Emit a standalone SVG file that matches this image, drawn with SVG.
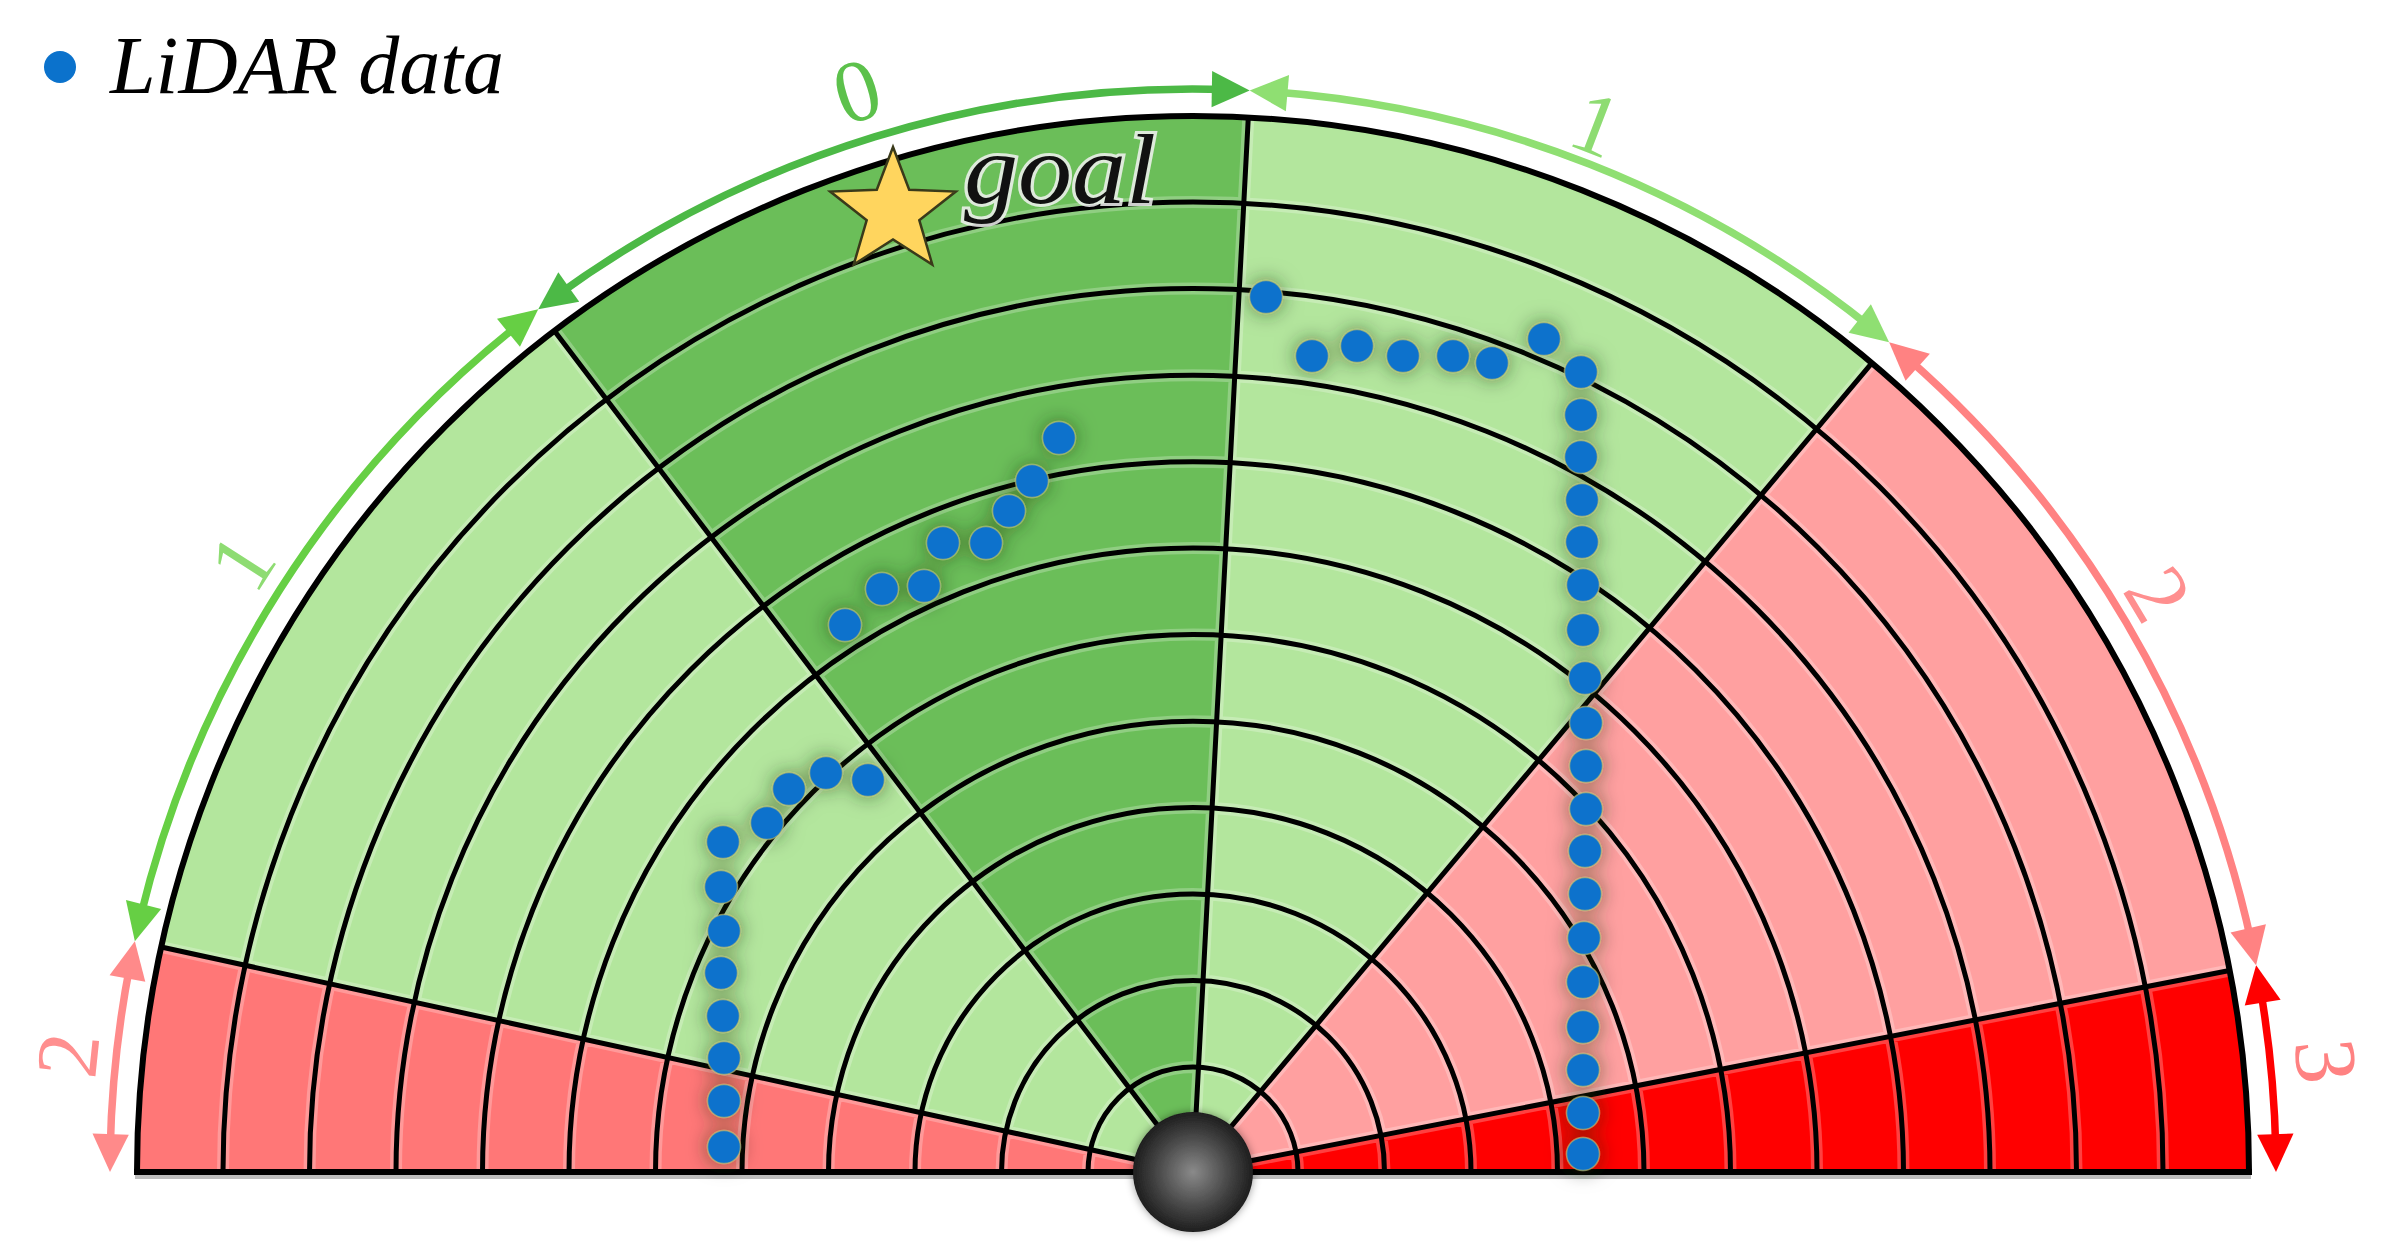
<svg xmlns="http://www.w3.org/2000/svg" xmlns:xlink="http://www.w3.org/1999/xlink" width="2381" height="1258" viewBox="0 0 2381 1258">
<defs>
<style>
.grid{fill:none;stroke:#000;stroke-width:5}
.hl{fill:none;stroke:#fff;stroke-opacity:0.25;stroke-width:12}
.shaft{fill:none;stroke-width:7.5}
.lbl{font-family:"Liberation Serif","DejaVu Serif",serif;font-size:88px;text-anchor:middle;dominant-baseline:central}
.d{fill:#0b72cc;stroke:#c8c46a;stroke-width:1.5;stroke-opacity:0.6}
</style>
<polygon id="hA" points="2276,1172 2293.5,1133.5 2257.2,1134.8"/>
<polygon id="hB" points="2276,1172 2293.5,1210.5 2257.2,1209.2"/>
<filter id="glow" x="-10%" y="-10%" width="120%" height="120%">
<feGaussianBlur in="SourceAlpha" stdDeviation="10" result="b"/>
<feFlood flood-color="#1e3210" flood-opacity="0.55"/>
<feComposite in2="b" operator="in" result="s"/>
<feMerge><feMergeNode in="s"/><feMergeNode in="SourceGraphic"/></feMerge>
</filter>
<filter id="rshadow" x="-40%" y="-40%" width="180%" height="180%">
<feGaussianBlur in="SourceAlpha" stdDeviation="4" result="b"/>
<feFlood flood-color="#000" flood-opacity="0.4"/>
<feComposite in2="b" operator="in" result="s"/>
<feMerge><feMergeNode in="s"/><feMergeNode in="SourceGraphic"/></feMerge>
</filter>
<radialGradient id="rg" cx="0.5" cy="0.5" r="0.5">
<stop offset="0" stop-color="#8a8a8a"/>
<stop offset="0.7" stop-color="#3c3c3c"/>
<stop offset="1" stop-color="#1e1e1e"/>
</radialGradient>
</defs>
<rect width="2381" height="1258" fill="#fff"/>

<g id="sectors">
<path d="M1193,1172 L2249,1172 A1056,1056 0 0 0 2229.6,970.5 Z" fill="#ff0000"/>
<path d="M1193,1172 L2229.6,970.5 A1056,1056 0 0 0 1871.8,363.1 Z" fill="#ffa0a0"/>
<path d="M1193,1172 L1871.8,363.1 A1056,1056 0 0 0 1248.3,117.4 Z" fill="#b3e69d"/>
<path d="M1193,1172 L1248.3,117.4 A1056,1056 0 0 0 554.5,330.9 Z" fill="#6bbe59"/>
<path d="M1193,1172 L554.5,330.9 A1056,1056 0 0 0 161.2,947 Z" fill="#b3e69d"/>
<path d="M1193,1172 L161.2,947 A1056,1056 0 0 0 137,1172 Z" fill="#ff7777"/>
</g>

<g id="grid">
<path class="hl" d="M1298,1172 A105,105 0 0 0 1088,1172 M1384.5,1172 A191.5,191.5 0 0 0 1001.5,1172 M1471,1172 A278,278 0 0 0 915,1172 M1557.5,1172 A364.5,364.5 0 0 0 828.5,1172 M1644,1172 A451,451 0 0 0 742,1172 M1730.5,1172 A537.5,537.5 0 0 0 655.5,1172 M1817,1172 A624,624 0 0 0 569,1172 M1903.5,1172 A710.5,710.5 0 0 0 482.5,1172 M1990,1172 A797,797 0 0 0 396,1172 M2076.5,1172 A883.5,883.5 0 0 0 309.5,1172 M2163,1172 A970,970 0 0 0 223,1172 M1193,1172 L2229.6,970.5 M1193,1172 L1871.8,363.1 M1193,1172 L1248.3,117.4 M1193,1172 L554.5,330.9 M1193,1172 L161.2,947"/>
<path class="grid" d="M1298,1172 A105,105 0 0 0 1088,1172 M1384.5,1172 A191.5,191.5 0 0 0 1001.5,1172 M1471,1172 A278,278 0 0 0 915,1172 M1557.5,1172 A364.5,364.5 0 0 0 828.5,1172 M1644,1172 A451,451 0 0 0 742,1172 M1730.5,1172 A537.5,537.5 0 0 0 655.5,1172 M1817,1172 A624,624 0 0 0 569,1172 M1903.5,1172 A710.5,710.5 0 0 0 482.5,1172 M1990,1172 A797,797 0 0 0 396,1172 M2076.5,1172 A883.5,883.5 0 0 0 309.5,1172 M2163,1172 A970,970 0 0 0 223,1172"/>
<path class="grid" d="M1193,1172 L2229.6,970.5 M1193,1172 L1871.8,363.1 M1193,1172 L1248.3,117.4 M1193,1172 L554.5,330.9 M1193,1172 L161.2,947"/>
<path d="M2249,1172 A1056,1056 0 0 0 137,1172" fill="none" stroke="#000" stroke-width="6"/>
<line x1="135" y1="1177" x2="2251" y2="1177" stroke="#bdbdbd" stroke-width="4"/>
<line x1="134" y1="1172" x2="2252" y2="1172" stroke="#000" stroke-width="6"/>
</g>

<g id="connectors">
<g id="arrow-3" fill="#ff0000">
<path class="shaft" stroke="#ff0000" stroke-width="9" d="M2276,1172 A1083,1083 0 0 0 2263.8,1010.1" transform="rotate(-1.2 1193 1172)"/>
<use xlink:href="#hA" href="#hA" transform="rotate(0 1193 1172)"/>
<use xlink:href="#hB" href="#hB" transform="rotate(-11 1193 1172)"/>
</g>
<g id="arrow-2r" fill="#ff8282">
<path class="shaft" stroke="#ff8282" d="M2276,1172 A1083,1083 0 0 0 2062.5,526.3" transform="rotate(-12.2 1193 1172)"/>
<use xlink:href="#hA" href="#hA" transform="rotate(-11 1193 1172)"/>
<use xlink:href="#hB" href="#hB" transform="rotate(-50 1193 1172)"/>
</g>
<g id="arrow-1r" fill="#8fdf72">
<path class="shaft" stroke="#8fdf72" d="M2276,1172 A1083,1083 0 0 0 2084.5,557" transform="rotate(-51.2 1193 1172)"/>
<use xlink:href="#hA" href="#hA" transform="rotate(-50 1193 1172)"/>
<use xlink:href="#hB" href="#hB" transform="rotate(-87 1193 1172)"/>
</g>
<g id="arrow-0" fill="#4cb946">
<path class="shaft" stroke="#4cb946" d="M2276,1172 A1083,1083 0 0 0 2048.7,508.2" transform="rotate(-88.2 1193 1172)"/>
<use xlink:href="#hA" href="#hA" transform="rotate(-87 1193 1172)"/>
<use xlink:href="#hB" href="#hB" transform="rotate(-127.2 1193 1172)"/>
</g>
<g id="arrow-1l" fill="#66cf44">
<path class="shaft" stroke="#66cf44" d="M2276,1172 A1083,1083 0 0 0 2045.3,503.7" transform="rotate(-128.4 1193 1172)"/>
<use xlink:href="#hA" href="#hA" transform="rotate(-127.2 1193 1172)"/>
<use xlink:href="#hB" href="#hB" transform="rotate(-167.7 1193 1172)"/>
</g>
<g id="arrow-2l" fill="#ff8a8a">
<path class="shaft" stroke="#ff8a8a" d="M2276,1172 A1083,1083 0 0 0 2259.9,985.8" transform="rotate(-168.9 1193 1172)"/>
<use xlink:href="#hA" href="#hA" transform="rotate(-167.7 1193 1172)"/>
<use xlink:href="#hB" href="#hB" transform="rotate(-180 1193 1172)"/>
</g>
</g>

<g id="labels">
<text class="lbl" fill="#5cc14b" transform="translate(857,91) rotate(-17.3)">0</text>
<text class="lbl" fill="#8edc72" transform="translate(242,562) rotate(-57.3)">1</text>
<text class="lbl" fill="#8edc72" transform="translate(1596,124) rotate(21)">1</text>
<text class="lbl" fill="#ff8f8f" transform="translate(2158,594) rotate(59)">2</text>
<text class="lbl" fill="#ff8f8f" transform="translate(68,1055) rotate(-84)">2</text>
<text class="lbl" fill="#ff8282" transform="translate(2326,1061) rotate(84.4)">3</text>
</g>

<g id="goal">
<path d="M893,147 L909.2,189.8 L955.8,191.6 L919.3,220.2 L932.3,264.6 L893,239.5 L853.7,264.6 L866.7,220.2 L830.2,191.6 L876.8,189.8 Z" fill="#ffd55e" stroke="#3a3a1a" stroke-width="2.5" stroke-linejoin="miter"/>
<text x="964" y="203" font-family="'Liberation Serif','DejaVu Serif',serif" font-style="italic" font-size="100" textLength="192" lengthAdjust="spacingAndGlyphs" fill="#111" stroke="#f2f2f2" stroke-width="6" stroke-opacity="0.85" paint-order="stroke">goal</text>
</g>

<g id="lidar" filter="url(#glow)">
<circle class="d" cx="1059" cy="438" r="16.5"/>
<circle class="d" cx="1032" cy="481" r="16.5"/>
<circle class="d" cx="1009" cy="511" r="16.5"/>
<circle class="d" cx="986" cy="543" r="16.5"/>
<circle class="d" cx="943" cy="543" r="16.5"/>
<circle class="d" cx="924" cy="586" r="16.5"/>
<circle class="d" cx="882" cy="589" r="16.5"/>
<circle class="d" cx="845" cy="625" r="16.5"/>
<circle class="d" cx="868" cy="780" r="16.5"/>
<circle class="d" cx="826" cy="773" r="16.5"/>
<circle class="d" cx="789" cy="789" r="16.5"/>
<circle class="d" cx="767" cy="823" r="16.5"/>
<circle class="d" cx="723" cy="842" r="16.5"/>
<circle class="d" cx="721" cy="887" r="16.5"/>
<circle class="d" cx="724" cy="931" r="16.5"/>
<circle class="d" cx="721" cy="973" r="16.5"/>
<circle class="d" cx="723" cy="1016" r="16.5"/>
<circle class="d" cx="724" cy="1058" r="16.5"/>
<circle class="d" cx="724" cy="1101" r="16.5"/>
<circle class="d" cx="724" cy="1147" r="16.5"/>
<circle class="d" cx="1266" cy="297" r="16.5"/>
<circle class="d" cx="1312" cy="356" r="16.5"/>
<circle class="d" cx="1357" cy="346" r="16.5"/>
<circle class="d" cx="1403" cy="356" r="16.5"/>
<circle class="d" cx="1453" cy="356" r="16.5"/>
<circle class="d" cx="1492" cy="363" r="16.5"/>
<circle class="d" cx="1544" cy="339" r="16.5"/>
<circle class="d" cx="1581" cy="372" r="16.5"/>
<circle class="d" cx="1581" cy="415" r="16.5"/>
<circle class="d" cx="1581" cy="457" r="16.5"/>
<circle class="d" cx="1582" cy="500" r="16.5"/>
<circle class="d" cx="1582" cy="542" r="16.5"/>
<circle class="d" cx="1583" cy="585" r="16.5"/>
<circle class="d" cx="1583" cy="630" r="16.5"/>
<circle class="d" cx="1585" cy="678" r="16.5"/>
<circle class="d" cx="1586" cy="723" r="16.5"/>
<circle class="d" cx="1586" cy="766" r="16.5"/>
<circle class="d" cx="1586" cy="809" r="16.5"/>
<circle class="d" cx="1585" cy="851" r="16.5"/>
<circle class="d" cx="1585" cy="894" r="16.5"/>
<circle class="d" cx="1584" cy="938" r="16.5"/>
<circle class="d" cx="1583" cy="982" r="16.5"/>
<circle class="d" cx="1583" cy="1027" r="16.5"/>
<circle class="d" cx="1583" cy="1070" r="16.5"/>
<circle class="d" cx="1583" cy="1113" r="16.5"/>
<circle class="d" cx="1583" cy="1154" r="16.5"/>
</g>

<g id="robot">
<circle cx="1193" cy="1172" r="60" fill="url(#rg)" filter="url(#rshadow)"/>
</g>

<g id="legend">
<circle cx="60" cy="67" r="16" fill="#0b72cc"/>
<text x="110" y="93" font-family="'Liberation Serif','DejaVu Serif',serif" font-style="italic" font-size="82" fill="#000">LiDAR data</text>
</g>
</svg>
